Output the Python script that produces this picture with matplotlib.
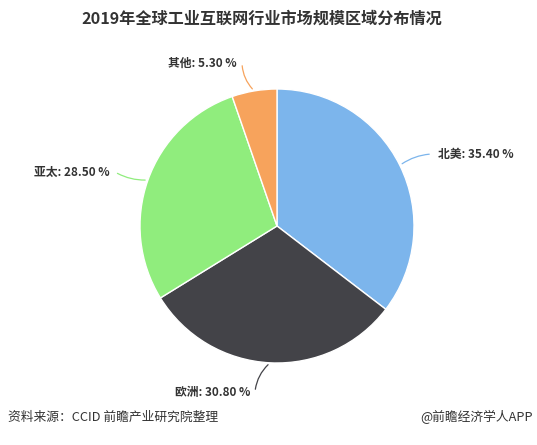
import numpy as np
import matplotlib.pyplot as plt

plt.rcParams['font.family'] = ['Noto Sans CJK SC', 'DejaVu Sans']

regions = ['北美', '欧洲', '亚太', '其他']
shares = [35.40, 30.80, 28.50, 5.30]
colors = ['#7cb5ec', '#434348', '#90ed7d', '#f7a35c']

fig = plt.figure(figsize=(5.37, 4.45), dpi=100)
ax = fig.add_axes([0, 0, 1, 1])

cx, cy, r = 277, 219, 137
wedges, _ = ax.pie(shares, colors=colors, startangle=90, counterclock=False,
                   center=(cx, cy), radius=r, frame=True,
                   wedgeprops=dict(edgecolor='white', linewidth=1))
ax.set_xlim(0, 537)
ax.set_ylim(0, 445)
ax.set_aspect('equal')
ax.axis('off')

# where each label text ends
label_pos = {'北美': (438, 291, 'left'), '欧洲': (250, 53, 'right'),
             '亚太': (110, 273, 'right'), '其他': (237, 382, 'right')}
rads = {'北美': 0.15, '欧洲': -0.2, '亚太': 0.15, '其他': 0.2}

for w, name, val in zip(wedges, regions, shares):
    ang = np.deg2rad((w.theta1 + w.theta2) / 2)
    ex, ey = cx + r * np.cos(ang), cy + r * np.sin(ang)
    tx, ty, ha = label_pos[name]
    lx = tx - 6 if ha == 'left' else tx + 5
    ax.annotate('', xy=(ex, ey), xytext=(lx, ty),
                arrowprops=dict(arrowstyle='-', color=w.get_facecolor(), lw=0.9,
                                connectionstyle='arc3,rad=%s' % rads[name]))
    ax.text(tx, ty, f'{name}: {val:.2f} %', ha=ha, va='center', fontsize=8.5,
            fontweight='bold', color='#333333')

fig.text(0.488, 0.957, '2019年全球工业互联网行业市场规模区域分布情况', ha='center', va='center',
         fontsize=11.6, fontweight='bold', color='#333333')
fig.text(0.015, 0.062, '资料来源：CCID 前瞻产业研究院整理', ha='left', va='center',
         fontsize=9.2, color='#333333')
fig.text(0.993, 0.062, '@前瞻经济学人APP', ha='right', va='center',
         fontsize=9.2, color='#333333')

fig.savefig('out.png', dpi=100, facecolor='white')
